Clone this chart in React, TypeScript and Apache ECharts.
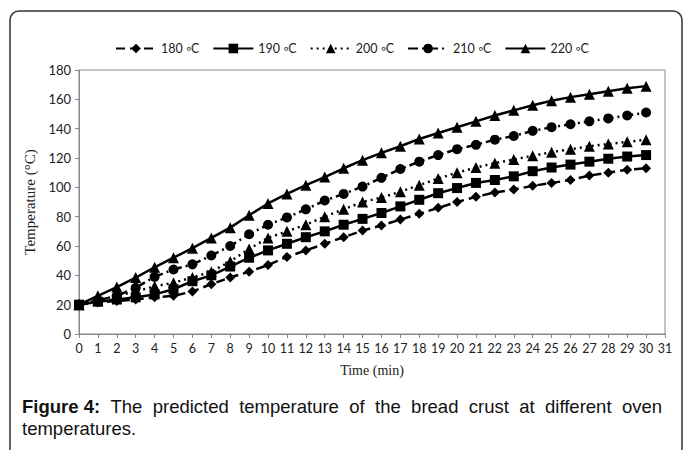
import React, { useEffect, useRef } from "react";
import * as echarts from "echarts";

const minutes = Array.from({ length: 32 }, (_, i) => String(i));
const seriesNames = ["180 ◦C", "190 ◦C", "200 ◦C", "210 ◦C", "220 ◦C"];
const t180 = [20, 21.5, 22.5, 23.5, 25, 26, 29, 34, 38.5, 42.5, 47, 52.5, 57, 61.5, 66, 70.5, 74, 78, 82, 86, 90, 93.5, 96.5, 98.5, 101, 103, 105, 108, 110, 112, 113];
const t190 = [20, 22, 23.5, 25, 27, 30.5, 36, 40, 46, 52, 57, 61.5, 66, 70, 74.5, 78.5, 82.5, 87, 91.5, 96, 99.5, 103, 105, 107.5, 111, 113.5, 115.5, 117.5, 119.5, 121, 122];
const t200 = [20, 23, 26, 29, 32.5, 35, 38.5, 42.5, 49.5, 58, 65.5, 70, 74.5, 80, 85, 90, 93, 97, 101.5, 106, 110, 113.5, 116.5, 119, 121.5, 124, 126, 128, 129.5, 131, 132.5];
const t210 = [20, 23, 26, 31.5, 39, 44, 47.5, 53.5, 60, 68, 74.5, 79.5, 85, 91, 95.5, 100.5, 106.5, 112.5, 117.5, 122, 126, 129, 132.5, 135, 138.5, 141, 143, 145, 147, 149, 151];
const t220 = [20, 26, 32, 38.5, 45.5, 52, 58.5, 65.5, 72.5, 81, 89, 95.5, 101.5, 107, 113, 118.5, 123.5, 128, 133, 137, 141, 145, 149, 152.5, 156, 159, 161.5, 163.5, 165.5, 167.5, 169];
const yTicks = { min: 0, max: 180, interval: 20 };
const captionLine1Words = ["Figure 4:", "The", "predicted", "temperature", "of", "the", "bread", "crust", "at", "different", "oven"];
const captionLine2 = "temperatures.";

export default function App() {
  const ref = useRef<HTMLDivElement>(null);
  useEffect(() => {
    if (!ref.current) return;
    const chart = echarts.init(ref.current, null, { renderer: "svg" });
    const black = "#000";
    const mk = (name: string, data: number[], symbol: string, size: number, type: any) => ({
      name,
      type: "line",
      data,
      symbol,
      symbolSize: size,
      showSymbol: true,
      itemStyle: { color: black },
      lineStyle: { color: black, width: 2.5, type },
      emphasis: { disabled: true },
    });

    // justified caption line (like the reference's justified paragraph)
    const capFont = "18.5px 'Liberation Sans'";
    const capBold = "bold 18.5px 'Liberation Sans'";
    const canvas = document.createElement("canvas");
    const ctx = canvas.getContext("2d")!;
    const widths = captionLine1Words.map((w, i) => {
      ctx.font = i === 0 ? capBold : capFont;
      return ctx.measureText(w).width;
    });
    const lineLeft = 22;
    const lineRight = 662;
    const total = widths.reduce((a, b) => a + b, 0);
    const gap = (lineRight - lineLeft - total) / (captionLine1Words.length - 1);
    let cx = lineLeft;
    const wordEls: any[] = captionLine1Words.map((w, i) => {
      const el = {
        type: "text",
        x: cx,
        y: 397,
        silent: true,
        style: { text: w, font: i === 0 ? capBold : capFont, fill: "#111" },
      };
      cx += widths[i] + gap;
      return el;
    });

    chart.setOption({
      animation: false,
      backgroundColor: "#fff",
      legend: {
        top: 37,
        left: 110,
        itemWidth: 40,
        itemHeight: 12,
        itemGap: 13,
        textStyle: { fontFamily: "Lato", fontSize: 12.5, color: "#222" },
        data: seriesNames,
      },
      grid: {
        left: 79,
        right: 18,
        top: 70,
        bottom: 116,
        show: true,
        borderColor: "#888",
        borderWidth: 1,
        containLabel: false,
      },
      xAxis: {
        type: "category",
        data: minutes,
        boundaryGap: false,
        axisLine: { lineStyle: { color: "#888", width: 1 } },
        axisTick: { show: true, length: 4, lineStyle: { color: "#888" }, interval: 0 },
        axisLabel: { interval: 0, fontFamily: "Lato", fontSize: 12.5, color: "#222", margin: 8 },
        name: "Time (min)",
        nameLocation: "middle",
        nameGap: 29,
        nameTextStyle: { fontFamily: "Liberation Serif", fontSize: 14, color: "#222" },
        splitLine: { show: false },
      },
      yAxis: {
        type: "value",
        min: yTicks.min,
        max: yTicks.max,
        interval: yTicks.interval,
        axisLine: { show: true, lineStyle: { color: "#888", width: 1 } },
        axisTick: { show: true, length: 4, lineStyle: { color: "#888" } },
        axisLabel: { fontFamily: "Lato", fontSize: 13, color: "#222", margin: 8 },
        splitLine: { show: false },
        name: "Temperature (°C)",
        nameLocation: "middle",
        nameGap: 37,
        nameRotate: 90,
        nameTextStyle: { fontFamily: "Liberation Serif", fontSize: 15, color: "#222" },
      },
      series: [
        mk(seriesNames[0], t180, "diamond", 10, [9, 5]),
        mk(seriesNames[1], t190, "rect", 10, "solid"),
        mk(seriesNames[2], t200, "triangle", 11, [2, 4]),
        mk(seriesNames[3], t210, "circle", 10, [10, 4, 2, 4]),
        mk(seriesNames[4], t220, "triangle", 11, "solid"),
      ],
      graphic: [
        {
          type: "rect",
          silent: true,
          shape: { x: 10, y: 11, width: 672, height: 470, r: 9 },
          style: { fill: "none", stroke: "#333", lineWidth: 1.5 },
        },
        ...wordEls,
        {
          type: "text",
          x: 22,
          y: 419,
          silent: true,
          style: { text: captionLine2, font: capFont, fill: "#111" },
        },
      ],
    });
    return () => chart.dispose();
  }, []);
  return <div ref={ref} style={{ width: 683, height: 450, position: "absolute", left: 0, top: 0 }} />;
}
